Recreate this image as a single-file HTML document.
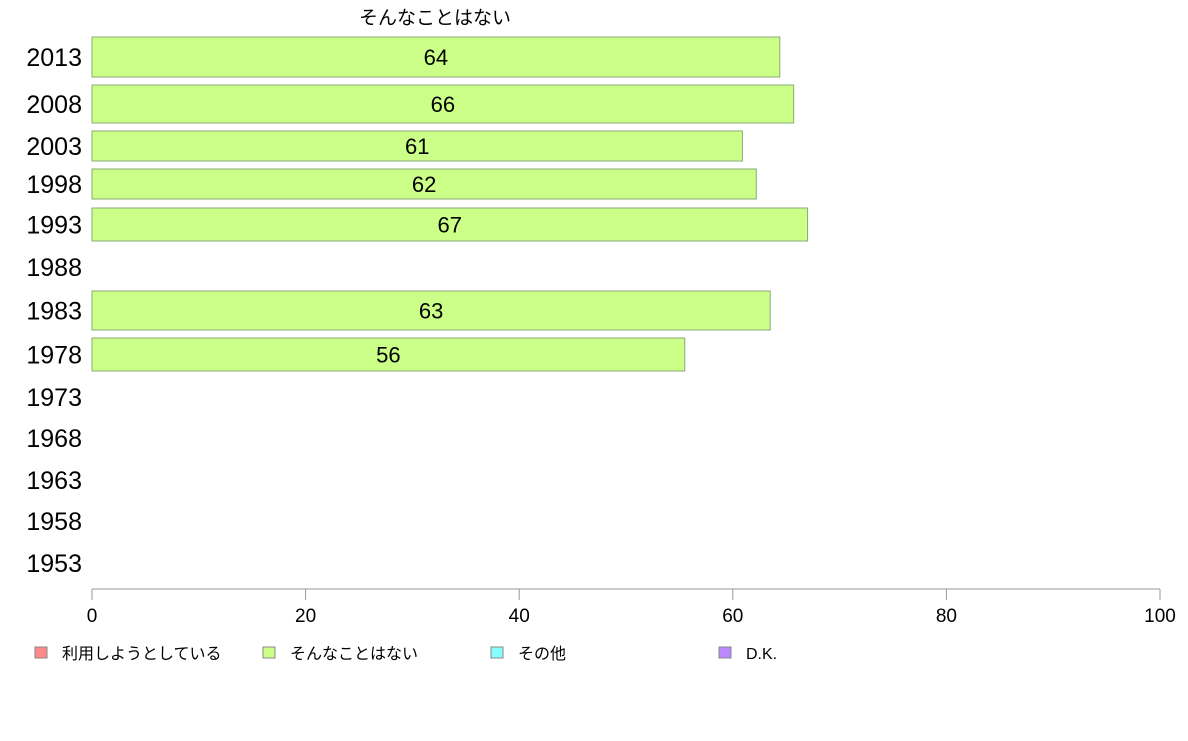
<!DOCTYPE html>
<html><head><meta charset="utf-8"><style>
body{margin:0;background:#fff;width:1188px;height:736px;overflow:hidden}
svg text{font-family:"Liberation Sans","Noto Sans CJK JP",sans-serif}
</style></head><body>
<svg id="chart" width="1188" height="736" xmlns="http://www.w3.org/2000/svg"></svg>
<script>
const categories=["2013","2008","2003","1998","1993","1988","1983","1978","1973","1968","1963","1958","1953"];
const values=[64.4,65.7,60.9,62.2,67.0,null,63.5,55.5,null,null,null,null,null];
const valueLabels=["64","66","61","62","67","","63","56","","","","",""];
const xTicks=[0,20,40,60,80,100];
const legendLabels=["利用しようとしている","そんなことはない","その他","D.K."];
const legendColors=["#ff8888","#ccff88","#88ffff","#bb88ff"];
// layout (pixel) arrays
const rowTop=[37,85,131,169,208,250,291,338,380,421,463,504,546];
const rowBot=[77,123,161,199,241,284,330,371,414,455,497,538,580];
const svg=document.getElementById('chart');
const NS="http://www.w3.org/2000/svg";
const x=v=>92+v*(1160-92)/100;
function mk(t,a,txt){const e=document.createElementNS(NS,t);for(const k in a)e.setAttribute(k,a[k]);if(txt!==undefined)e.textContent=txt;svg.appendChild(e);return e;}
let t=mk('text',{x:435,y:24,'font-size':19,'text-anchor':'middle',fill:'#000'},'そんなことはない');


categories.forEach((c,i)=>{
  const cy=(rowTop[i]+rowBot[i])/2;
  let l=mk('text',{x:82,y:cy+9,'font-size':25,'text-anchor':'end',fill:'#000'},c);
  
  
  if(values[i]!=null){
    let r=mk('rect',{x:x(0),y:rowTop[i],width:x(values[i])-x(0),height:rowBot[i]-rowTop[i],fill:'#ccff88',stroke:'#88aa77','stroke-width':1});
    
    
    let v=mk('text',{x:(x(0)+x(values[i]))/2,y:cy+8,'font-size':22,'text-anchor':'middle',fill:'#000'},valueLabels[i]);
    
    
  }
});
let ax=mk('line',{x1:x(0),x2:x(100),y1:589,y2:589,stroke:'#999','stroke-width':1});


xTicks.forEach(v=>{
  let tk=mk('line',{x1:x(v),x2:x(v),y1:589,y2:600,stroke:'#999','stroke-width':1});
  
  
  let tl=mk('text',{x:x(v),y:622,'font-size':19,'text-anchor':'middle',fill:'#000'},String(v));
  
  
});
legendLabels.forEach((s,i)=>{
  const lx=35+i*228;
  let sq=mk('rect',{x:lx,y:647,width:12,height:11,fill:legendColors[i],stroke:'#888','stroke-width':1});
  
  
  let lt=mk('text',{x:lx+27,y:659,'font-size':16,fill:'#000'},s);
  
  
});
</script>
</body></html>
